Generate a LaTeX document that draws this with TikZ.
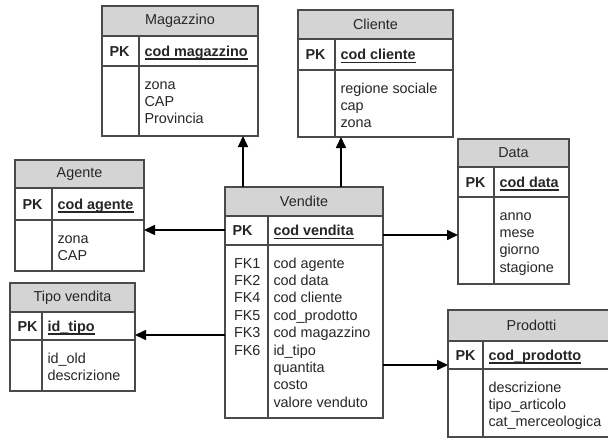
\documentclass[tikz,border=0pt]{standalone}
\usepackage{fontspec}
\setmainfont{Liberation Sans}
\usetikzlibrary{arrows.meta}

\definecolor{hdrgray}{HTML}{D4D4D4}
\definecolor{edgegray}{HTML}{4A4A4A}
\definecolor{inkgray}{HTML}{262626}

\tikzset{
  border/.style={draw=edgegray, line width=1.3pt},
  hdrbox/.style={border, fill=hdrgray, inner sep=0pt, outer sep=0pt},
  rowbox/.style={border, fill=white, inner sep=0pt, outer sep=0pt},
  txt/.style={inner sep=0pt, outer sep=0pt, text=inkgray,
    font=\fontsize{14.4}{17.4}\selectfont},
  titletxt/.style={txt},
  pktxt/.style={txt, font=\fontsize{14.4}{17.4}\selectfont\bfseries},
  keyunder/.style={draw=inkgray, line width=1.1pt},
  fk/.style={draw=black, line width=1.6pt,
    -{Triangle[length=11pt,width=10pt]}},
}

% table frame: #1 name, #2 left, #3 top, #4 width, #5 header h,
% #6 key row h, #7 body h, #8 first column width
\newcommand\erdframe[8]{%
  \node[hdrbox, minimum width=#4pt, minimum height=#5pt, anchor=north west]
    (#1-h) at (#2,#3) {};
  \node[rowbox, minimum width=#4pt, minimum height=#6pt, anchor=north west]
    (#1-k) at (#1-h.south west) {};
  \node[rowbox, minimum width=#4pt, minimum height=#7pt, anchor=north west]
    (#1-b) at (#1-k.south west) {};
  \coordinate (#1-c) at ([xshift=#8pt]#1-k.north west);
  \coordinate (#1-kc) at (#1-c |- #1-k.west);
  \coordinate (#1-bc) at (#1-c |- #1-b.north);
  \draw[border] (#1-c) -- (#1-c |- #1-b.south);
}

% title, primary key and attribute list of a table
\newcommand\erdtext[4]{%
  \node[titletxt] (#1-t) at (#1-h) {#2};
  \node[pktxt, anchor=base west] (#1-pk) at ([xshift=7.5pt,yshift=-5pt]#1-k.west) {PK};
  \node[pktxt, anchor=base west] (#1-kn) at ([xshift=5.5pt,yshift=-5pt]#1-kc) {#3};
  \draw[keyunder] ([yshift=-3pt]#1-kn.base west) -- ([yshift=-3pt]#1-kn.base east);
  \foreach \t [count=\i] in {#4}
    \node[txt, anchor=base west] (#1-a\i)
      at ([xshift=5.5pt,yshift={-(23+(\i-1)*17.4)*1pt}]#1-bc) {\t};
}

\begin{document}
\begin{tikzpicture}[x=1pt,y=-1pt]
\useasboundingbox (0,0) rectangle (608,439);

% tables
\erdframe{mag}{102}{6}{156}{30}{30}{70}{37}
\erdtext{mag}{Magazzino}{cod magazzino}{zona,CAP,Provincia}

\erdframe{cli}{298}{10}{155}{29}{31}{67}{37}
\erdtext{cli}{Cliente}{cod cliente}{regione sociale,cap,zona}

\erdframe{ag}{15}{160}{129}{28}{32}{51}{37}
\erdtext{ag}{Agente}{cod agente}{zona,CAP}

\erdframe{ven}{225}{187}{158}{29}{29}{173}{43}
\erdtext{ven}{Vendite}{cod vendita}{cod agente,cod data,cod cliente,cod\_prodotto,cod magazzino,id\_tipo,quantita,costo,valore venduto}
\foreach \t [count=\i] in {FK1,FK2,FK4,FK5,FK3,FK6}
  \node[txt, anchor=base west] (ven-f\i)
    at ([xshift=9pt,yshift={-(23+(\i-1)*17.4)*1pt}]ven-b.north west) {\t};

\erdframe{da}{458}{139}{111}{28}{30}{87}{36}
\erdtext{da}{Data}{cod data}{anno,mese,giorno,stagione}

\erdframe{tv}{10}{283}{125}{29}{28}{51}{32}
\erdtext{tv}{Tipo vendita}{id\_tipo}{id\_old,descrizione}

\erdframe{pr}{448}{310}{167}{31}{28}{68}{35}
\erdtext{pr}{Prodotti}{cod\_prodotto}{descrizione,tipo\_articolo,cat\_merceologica}

% foreign key references from the fact table
\coordinate (ven-m) at ([xshift=18pt]ven-h.north west);
\coordinate (ven-cl) at ([xshift=116pt]ven-h.north west);
\coordinate (ven-ag) at ([yshift=0.5pt]ven-k.west);
\coordinate (ven-d) at ([yshift=-4.5pt]ven-k.east);
\coordinate (ven-tv) at ([yshift=-90pt]ven-b.north west);
\coordinate (ven-p) at ([yshift=-120pt]ven-b.north east);

\draw[fk] (ven-m) -- (ven-m |- mag-b.south);
\draw[fk] (ven-cl) -- (ven-cl |- cli-b.south);
\draw[fk] (ven-ag) -- (ven-ag -| ag-b.east);
\draw[fk] (ven-d) -- (ven-d -| da-b.west);
\draw[fk] (ven-tv) -- (ven-tv -| tv-b.east);
\draw[fk] (ven-p) -- (ven-p -| pr-b.west);
\end{tikzpicture}
\end{document}
